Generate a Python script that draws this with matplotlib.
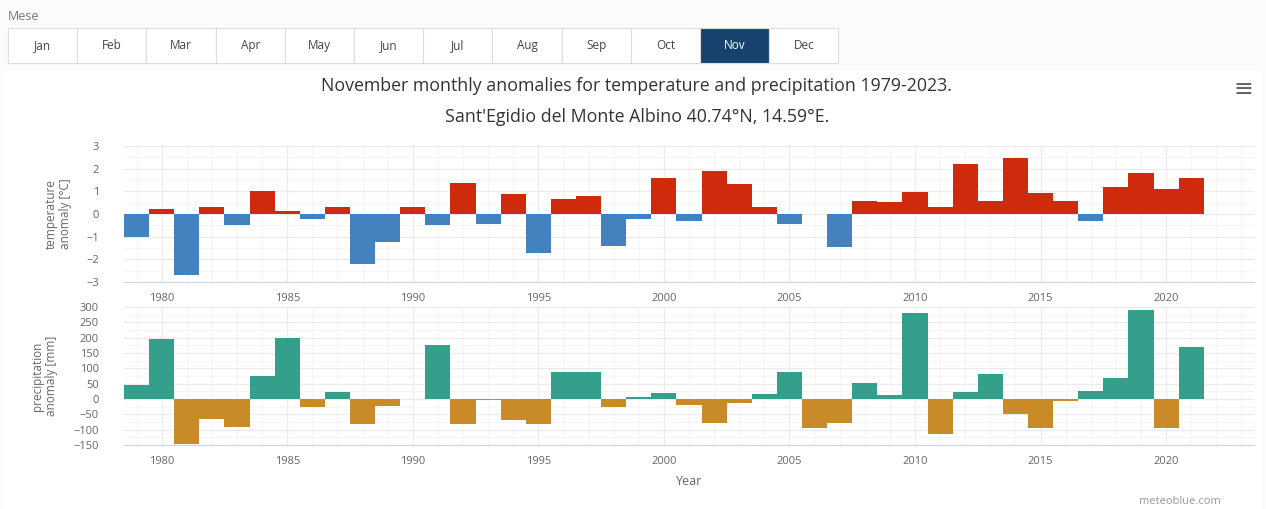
import numpy as np
import matplotlib.pyplot as plt
from matplotlib.patches import Rectangle
from matplotlib.ticker import MultipleLocator

plt.rcParams["font.family"] = ["Open Sans", "DejaVu Sans"]

# ---- data ----
months = ["Jan", "Feb", "Mar", "Apr", "May", "Jun", "Jul", "Aug", "Sep", "Oct", "Nov", "Dec"]
selected_month = "Nov"

years = np.arange(1979, 2022)

temp_anom = [
    -1.0, 0.2, -2.7, 0.3, -0.5, 1.0, 0.12, -0.2, 0.3, -2.2,
    -1.23, 0.3, -0.5, 1.38, -0.43, 0.9, -1.7, 0.67, 0.78, -1.42,
    -0.22, 1.58, -0.32, 1.9, 1.31, 0.29, -0.44, np.nan, -1.45, 0.58,
    0.51, 0.99, 0.29, 2.19, 0.58, 2.48, 0.92, 0.58, -0.32, 1.18,
    1.8, 1.1, 1.58,
]

precip_anom = [
    46, 196, -147, -65, -92, 76, 198, -25, 24, -83,
    -22, np.nan, 176, -83, -4, -68, -83, 87, 87, -27,
    8, 20, -20, -78, -12, 16, 87, -96, -79, 52,
    14, 279, -114, 24, 82, -49, -96, -5, 27, 67,
    290, -95, 168,
]

temp_anom = np.array(temp_anom, dtype=float)
precip_anom = np.array(precip_anom, dtype=float)

# colours
RED, BLUE = "#d02a0c", "#4482bf"
TEAL, OCHRE = "#34a08c", "#c98a28"
GRID = "#ebebeb"
TXT = "#666666"

W, H = 1266, 509
fig = plt.figure(figsize=(W / 100, H / 100), dpi=100)
fig.patch.set_facecolor("#fbfbfb")


def px_axes(x0, y0, x1, y1):
    # pixel box (top-left origin) -> figure axes
    return fig.add_axes([x0 / W, 1 - y1 / H, (x1 - x0) / W, (y1 - y0) / H])


# ---- month selector ----
fig.text(8 / W, 1 - 16 / H, "Mese", fontsize=9, color="#777777", va="center")
bx0, bw, by0, bh = 8, 69.2, 28, 35
for i, m in enumerate(months):
    x = bx0 + i * bw
    sel = m == selected_month
    fig.patches.append(Rectangle((x / W, 1 - (by0 + bh) / H), bw / W, bh / H,
                                 transform=fig.transFigure,
                                 facecolor="#17426e" if sel else "white",
                                 edgecolor="#dddddd", lw=0.8))
    fig.text((x + bw / 2) / W, 1 - (by0 + bh / 2) / H, m, ha="center", va="center",
             fontsize=8.5, color="white" if sel else "#444444")

# white chart card
fig.patches.append(Rectangle((4 / W, 0), (W - 8) / W, 1 - 70 / H, transform=fig.transFigure,
                             facecolor="white", edgecolor="none", zorder=-1))

fig.text(0.503, 1 - 86 / H,
         "November monthly anomalies for temperature and precipitation 1979-2023.",
         ha="center", va="center", fontsize=12.8, color="#333333")
fig.text(0.503, 1 - 117 / H, "Sant'Egidio del Monte Albino 40.74°N, 14.59°E.",
         ha="center", va="center", fontsize=12.8, color="#333333")
fig.text(1243 / W, 1 - 89 / H, "≡", ha="center", va="center", fontsize=17,
         color="#666666", family="DejaVu Sans")


def style(ax, ylim, major, minor, ylabel, label_x):
    ax.set_xlim(1978.5, 2023.5)
    ax.set_ylim(*ylim)
    ax.yaxis.set_major_locator(MultipleLocator(major))
    ax.yaxis.set_minor_locator(MultipleLocator(minor))
    ax.xaxis.set_major_locator(MultipleLocator(5))
    ax.xaxis.set_minor_locator(MultipleLocator(1))
    ax.grid(which="major", color=GRID, lw=0.9)
    ax.grid(which="minor", color="#f4f4f4", lw=0.6)
    ax.set_axisbelow(True)
    for s in ["top", "right", "left"]:
        ax.spines[s].set_visible(False)
    ax.spines["bottom"].set_color("#ccd6eb")
    ax.tick_params(axis="both", which="both", length=0, labelsize=8, colors=TXT)
    ax.tick_params(axis="x", pad=8)
    ax.tick_params(axis="y", pad=18)
    ax.set_ylabel(ylabel, fontsize=8.5, color=TXT, linespacing=1.1)
    ax.yaxis.set_label_coords(label_x, 0.5)


# ---- temperature panel ----
ax1 = px_axes(124, 146, 1254, 282)
tcol = [RED if v >= 0 else BLUE for v in np.nan_to_num(temp_anom)]
ax1.bar(years, temp_anom, width=1.0, color=tcol, linewidth=0)
style(ax1, (-3, 3), 1, 0.5, "temperature\nanomaly [°C]", (72 - 124) / 1130)

# ---- precipitation panel ----
ax2 = px_axes(124, 307, 1254, 445)
pcol = [TEAL if v >= 0 else OCHRE for v in np.nan_to_num(precip_anom)]
ax2.bar(years, precip_anom, width=1.0, color=pcol, linewidth=0)
style(ax2, (-150, 300), 50, 25, "precipitation\nanomaly [mm]", (58 - 124) / 1130)
ax2.set_xlabel("Year", fontsize=9, color=TXT, labelpad=6)

fig.text(1180 / W, 1 - 502 / H, "meteoblue.com", ha="center", va="center",
         fontsize=8, color="#999999")

fig.savefig("out.png", dpi=100, facecolor=fig.get_facecolor())
